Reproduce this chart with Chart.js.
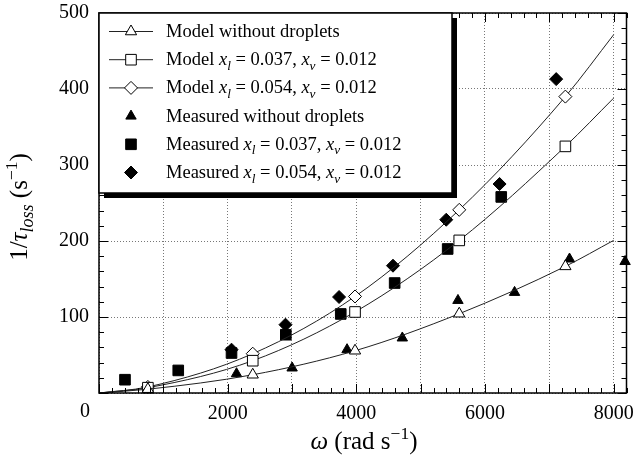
<!DOCTYPE html>
<html>
<head>
<meta charset="utf-8">
<script src="https://cdn.jsdelivr.net/npm/chart.js@4.4.0/dist/chart.umd.min.js"></script>
<style>
  body { margin: 0; background: #fff; }
  #wrap { width: 635px; height: 459px; }
</style>
</head>
<body>
<div id="wrap"><canvas id="myChart" width="635" height="459"></canvas></div>
<script>
var SERIF = '"Liberation Serif", "Times New Roman", serif';

// model curves (open markers on the inner points)
var xModel = [0, 760, 2390, 3980, 5600, 7250, 8000];
var yModelNone = [0, 5, 24, 55.6, 104.3, 166.6, 200.8];
var yModel037 = [0, 7, 42.5, 106.6, 200.8, 324.5, 388];
var yModel054 = [0, 8, 51.7, 127, 241, 390, 471.4];
var markerOn = [false, true, true, true, true, true, false];

// measurements
var xMeasNone = [2138, 3002, 3856, 4715, 5580, 6460, 7314, 8178];
var yMeasNone = [25.4, 32.9, 57, 72.4, 121.8, 132.4, 176.3, 173];
var xMeas037 = [404, 1232, 2060, 2904, 3758, 4596, 5420, 6253];
var yMeas037 = [17.5, 29.7, 52.6, 76.7, 104, 144.7, 189.5, 258];
var xMeas054 = [2060, 2899, 3732, 4570, 5398, 6227, 7107];
var yMeas054 = [57, 89.9, 126.3, 167.5, 228, 275, 413];

var xGridTicks = [0, 1000, 2000, 3000, 4000, 5000, 6000, 7000, 8000];
var xLabelTicks = [2000, 4000, 6000, 8000];
var yLabelTicks = [100, 200, 300, 400, 500];

// legend entries: [text, style] with n = normal, i = italic, s = italic subscript
var legendRows = [
  { style: 'triangle', filled: false, line: true, r: 6.5, parts: [['Model without droplets', 'n']] },
  { style: 'rect', filled: false, line: true, r: 7.5, parts: [['Model ', 'n'], ['x', 'i'], ['l', 's'], [' = 0.037, ', 'n'], ['x', 'i'], ['v', 's'], [' = 0.012', 'n']] },
  { style: 'rectRot', filled: false, line: true, r: 6.5, parts: [['Model ', 'n'], ['x', 'i'], ['l', 's'], [' = 0.054, ', 'n'], ['x', 'i'], ['v', 's'], [' = 0.012', 'n']] },
  { style: 'triangle', filled: true, line: false, r: 6, parts: [['Measured without droplets', 'n']] },
  { style: 'rect', filled: true, line: false, r: 7.5, parts: [['Measured ', 'n'], ['x', 'i'], ['l', 's'], [' = 0.037, ', 'n'], ['x', 'i'], ['v', 's'], [' = 0.012', 'n']] },
  { style: 'rectRot', filled: true, line: false, r: 6.5, parts: [['Measured ', 'n'], ['x', 'i'], ['l', 's'], [' = 0.054, ', 'n'], ['x', 'i'], ['v', 's'], [' = 0.012', 'n']] }
];

function pts(xs, ys) {
  return xs.map(function (x, i) { return { x: x, y: ys[i] }; });
}

function modelSet(ys, style, r) {
  return {
    data: pts(xModel, ys),
    showLine: true,
    cubicInterpolationMode: 'monotone',
    borderColor: '#222',
    borderWidth: 1,
    pointStyle: style,
    pointRadius: markerOn.map(function (m) { return m ? r : 0; }),
    pointBackgroundColor: '#fff',
    pointBorderColor: '#000',
    pointBorderWidth: 1,
    clip: false
  };
}

function measSet(xs, ys, style, r) {
  return {
    data: pts(xs, ys),
    showLine: false,
    pointStyle: style,
    pointRadius: r,
    pointBackgroundColor: '#000',
    pointBorderColor: '#000',
    pointBorderWidth: 1,
    clip: false
  };
}

// draws a run of normal / italic / subscript / superscript pieces
function richText(ctx, x, y, parts, size) {
  parts.forEach(function (p) {
    var t = p[0], st = p[1], dy = 0, fs = size, it = false;
    if (st === 'i') it = true;
    if (st === 's') { it = true; fs = size * 0.72; dy = size * 0.25; }
    if (st === 'sup') { fs = size * 0.7; dy = -size * 0.4; }
    ctx.font = (it ? 'italic ' : '') + fs + 'px ' + SERIF;
    ctx.fillText(t, x, y + dy);
    x += ctx.measureText(t).width;
  });
  return x;
}

function richWidth(ctx, parts, size) {
  var w = 0;
  parts.forEach(function (p) {
    var fs = p[1] === 's' ? size * 0.72 : (p[1] === 'sup' ? size * 0.7 : size);
    var it = (p[1] === 'i' || p[1] === 's');
    ctx.font = (it ? 'italic ' : '') + fs + 'px ' + SERIF;
    w += ctx.measureText(p[0]).width;
  });
  return w;
}

var framePlugin = {
  id: 'frame',
  beforeDraw: function (chart) {
    var ctx = chart.ctx;
    ctx.save();
    ctx.fillStyle = '#fff';
    ctx.fillRect(0, 0, chart.width, chart.height);
    ctx.restore();
  },
  afterDatasetsDraw: function (chart) {
    var ctx = chart.ctx, a = chart.chartArea, xs = chart.scales.x, ys = chart.scales.y;
    ctx.save();
    ctx.strokeStyle = '#000';
    ctx.lineWidth = 1;
    ctx.beginPath();
    var v, p, len;
    for (v = 0; v <= xs.max; v += 200) {
      p = Math.round(xs.getPixelForValue(v)) + 0.5;
      len = v % 1000 === 0 ? 9 : 5;
      ctx.moveTo(p, a.bottom); ctx.lineTo(p, a.bottom - len);
      ctx.moveTo(p, a.top); ctx.lineTo(p, a.top + len);
    }
    for (v = 0; v <= ys.max; v += 20) {
      p = Math.round(ys.getPixelForValue(v)) + 0.5;
      len = v % 100 === 0 ? 9 : 5;
      ctx.moveTo(a.left, p); ctx.lineTo(a.left + len, p);
      ctx.moveTo(a.right, p); ctx.lineTo(a.right - len, p);
    }
    ctx.stroke();
    ctx.lineWidth = 1.5;
    ctx.strokeRect(a.left, a.top, a.right - a.left, a.bottom - a.top);
    ctx.restore();
  },
  afterDraw: function (chart) {
    var ctx = chart.ctx, a = chart.chartArea;
    ctx.save();
    // legend box with shadow
    var bx = a.left, by = a.top, bw = 353, bh = 180;
    ctx.fillStyle = '#000';
    ctx.fillRect(bx + 5, by + 5, bw, bh);
    ctx.fillStyle = '#fff';
    ctx.fillRect(bx, by, bw, bh);
    ctx.strokeStyle = '#000';
    ctx.lineWidth = 1.5;
    ctx.strokeRect(bx, by, bw, bh);

    ctx.textAlign = 'left';
    ctx.textBaseline = 'alphabetic';
    legendRows.forEach(function (row, i) {
      var base = by + 24 + i * 28.2;
      var cy = base - 5.5;
      if (row.line) {
        ctx.strokeStyle = '#222';
        ctx.lineWidth = 1;
        ctx.beginPath();
        ctx.moveTo(109, cy); ctx.lineTo(153, cy);
        ctx.stroke();
      }
      ctx.fillStyle = row.filled ? '#000' : '#fff';
      ctx.strokeStyle = '#000';
      ctx.lineWidth = 1;
      Chart.helpers.drawPoint(ctx, { pointStyle: row.style, rotation: 0, radius: row.r, borderWidth: 1 }, 131, cy);
      ctx.fillStyle = '#000';
      richText(ctx, 166, base, row.parts, 18.5);
    });

    // axis titles
    ctx.fillStyle = '#000';
    var xt = [['\u03c9', 'i'], [' (rad s', 'n'], ['\u22121', 'sup'], [')', 'n']];
    var wx = richWidth(ctx, xt, 25);
    richText(ctx, 364 - wx / 2, 449, xt, 25);

    var yt = [['1/', 'n'], ['\u03c4', 'i'], ['loss', 's'], [' (s', 'n'], ['\u22121', 'sup'], [')', 'n']];
    var wy = richWidth(ctx, yt, 25);
    ctx.translate(27, 207);
    ctx.rotate(-Math.PI / 2);
    richText(ctx, -wy / 2, 0, yt, 25);
    ctx.restore();

    // shared origin label
    ctx.save();
    ctx.fillStyle = '#000';
    ctx.font = '20px ' + SERIF;
    ctx.textAlign = 'center';
    ctx.textBaseline = 'middle';
    ctx.fillText('0', 85, 412);
    ctx.restore();
  }
};

var ctx = document.getElementById('myChart').getContext('2d');
var chart = new Chart(ctx, {
  type: 'scatter',
  data: {
    datasets: [
      modelSet(yModelNone, 'triangle', 6.5),
      modelSet(yModel037, 'rect', 7.5),
      modelSet(yModel054, 'rectRot', 6.5),
      measSet(xMeasNone, yMeasNone, 'triangle', 6),
      measSet(xMeas037, yMeas037, 'rect', 7.5),
      measSet(xMeas054, yMeas054, 'rectRot', 6.5)
    ]
  },
  options: {
    responsive: false,
    animation: false,
    events: [],
    layout: { padding: { left: 0, right: 8, top: 13, bottom: 0 } },
    plugins: { legend: { display: false }, tooltip: { enabled: false } },
    scales: {
      x: {
        type: 'linear',
        min: 0,
        max: 8200,
        afterBuildTicks: function (s) {
          s.ticks = xGridTicks.map(function (v) { return { value: v }; });
        },
        afterFit: function (s) {
          s.height = 66;
          s.paddingLeft = 0;
          s.paddingRight = 0;
        },
        ticks: {
          autoSkip: false,
          maxRotation: 0,
          padding: 9,
          color: '#000',
          font: { family: SERIF, size: 20 },
          callback: function (v) { return xLabelTicks.indexOf(v) >= 0 ? String(v) : ''; }
        },
        grid: { color: '#777', lineWidth: 1, drawTicks: false },
        border: { display: false, dash: [1, 2] }
      },
      y: {
        type: 'linear',
        min: 0,
        max: 500,
        afterFit: function (s) {
          s.width = 99;
          s.paddingTop = 0;
          s.paddingBottom = 0;
        },
        ticks: {
          stepSize: 100,
          padding: 10,
          color: '#000',
          font: { family: SERIF, size: 20 },
          callback: function (v) { return yLabelTicks.indexOf(v) >= 0 ? String(v) : ''; }
        },
        grid: { color: '#777', lineWidth: 1, drawTicks: false },
        border: { display: false, dash: [1, 2] }
      }
    }
  },
  plugins: [framePlugin]
});
</script>
</body>
</html>
